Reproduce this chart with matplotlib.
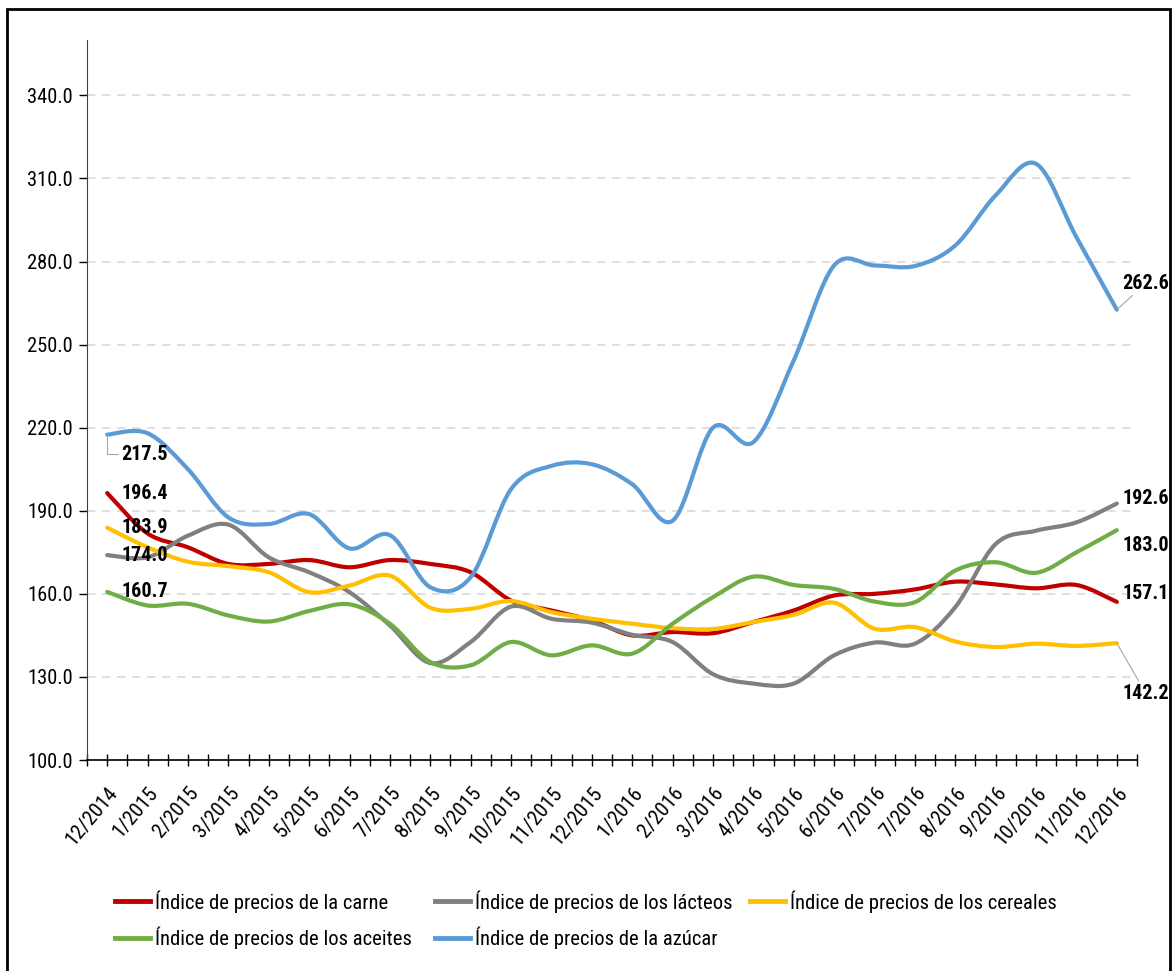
import matplotlib
matplotlib.use("Agg")
import matplotlib.pyplot as plt
import numpy as np
from matplotlib.path import Path
from matplotlib.patches import PathPatch, Rectangle
from matplotlib.lines import Line2D
from matplotlib import font_manager

names = {f.name for f in font_manager.fontManager.ttflist}
FONT = 'Liberation Sans'
for cand in ['Arial Narrow', 'Liberation Sans Narrow', 'Roboto Condensed', 'Archivo Narrow',
             'Pragati Narrow', 'PT Sans Narrow', 'Open Sans Condensed']:
    if cand in names:
        FONT = cand
        break
plt.rcParams['font.family'] = [FONT, 'DejaVu Sans']

categories = ["12/2014", "1/2015", "2/2015", "3/2015", "4/2015", "5/2015", "6/2015",
              "7/2015", "8/2015", "9/2015", "10/2015", "11/2015", "12/2015", "1/2016",
              "2/2016", "3/2016", "4/2016", "5/2016", "6/2016", "7/2016", "7/2016",
              "8/2016", "9/2016", "10/2016", "11/2016", "12/2016"]

carne = [196.4, 181.8, 176.8, 170.8, 170.8, 172.2, 169.6, 172.2, 170.8, 167.8, 157.6, 154.0, 150.4,
         145.0, 146.2, 145.8, 149.8, 154.0, 159.4, 160.0, 161.6, 164.4, 163.4, 162.0, 163.2, 157.1]
lacteos = [174.0, 173.2, 181.0, 185.0, 173.2, 167.8, 160.6, 148.6, 135.0, 142.6, 155.4, 151.0, 149.6,
           145.2, 142.6, 131.0, 127.6, 127.6, 137.8, 142.4, 142.0, 155.2, 178.0, 182.8, 185.8, 192.6]
cereales = [183.9, 176.8, 171.6, 170.0, 167.8, 160.6, 163.0, 166.6, 155.0, 154.6, 157.4, 153.4, 151.0,
            149.2, 147.6, 147.3, 149.8, 152.4, 156.8, 147.4, 148.0, 142.8, 140.8, 142.0, 141.2, 142.2]
aceites = [160.7, 155.8, 156.4, 152.2, 150.0, 153.8, 156.2, 149.2, 135.4, 134.2, 142.6, 137.8, 141.4,
           138.4, 149.2, 158.8, 166.2, 163.2, 161.8, 157.2, 157.0, 168.4, 171.4, 167.6, 175.0, 183.0]
azucar = [217.5, 218.0, 205.0, 187.6, 185.2, 188.8, 176.4, 181.2, 162.4, 166.0, 197.8, 206.2, 206.8,
          199.6, 186.4, 220.0, 214.8, 244.3, 278.6, 278.6, 278.4, 285.8, 303.9, 315.3, 288.8, 262.6]

series_names = ["Índice de precios de la carne", "Índice de precios de los lácteos",
                "Índice de precios de los cereales", "Índice de precios de los aceites",
                "Índice de precios de la azúcar"]
colors = ["#C00000", "#808080", "#FFC000", "#70AD47", "#5B9BD5"]
all_series = [carne, lacteos, cereales, aceites, azucar]

W, H = 1172, 971
fig = plt.figure(figsize=(W / 100, H / 100), dpi=100)
ax = fig.add_axes([87 / W, 1 - 760 / H, (1137 - 87) / W, (760 - 40) / H])

x = np.arange(len(categories))


def smooth_path(xs, ys):
    pts = np.column_stack([xs, ys]).astype(float)
    n = len(pts)
    verts = [pts[0]]
    codes = [Path.MOVETO]
    for i in range(n - 1):
        p0 = pts[i - 1] if i > 0 else pts[i]
        p1 = pts[i]
        p2 = pts[i + 1]
        p3 = pts[i + 2] if i + 2 < n else pts[i + 1]
        c1 = p1 + (p2 - p0) / 6.0
        c2 = p2 - (p3 - p1) / 6.0
        verts += [c1, c2, p2]
        codes += [Path.CURVE4] * 3
    return Path(verts, codes)


for ys, c in zip(all_series, colors):
    patch = PathPatch(smooth_path(x, ys), facecolor='none', edgecolor=c, lw=3.0,
                      capstyle='round', joinstyle='round', zorder=3)
    ax.add_patch(patch)

ax.set_xlim(-0.5, len(categories) - 0.5)
ax.set_ylim(100, 360)
ax.set_yticks(np.arange(100, 341, 30))
ax.set_yticklabels([f"{v:.1f}" for v in np.arange(100, 341, 30)])
ax.yaxis.grid(True, color='#d9d9d9', linestyle=(0, (5, 4)), linewidth=1.2)
ax.set_axisbelow(True)

ax.set_xticks(x)
ax.set_xticklabels(categories, rotation=50, ha='right', rotation_mode='anchor')
ax.set_xticks(np.arange(-0.5, len(categories), 1.0), minor=True)
ax.tick_params(axis='x', which='both', direction='inout', length=8, width=1, color='black')
ax.tick_params(axis='x', which='major', pad=13, labelsize=15)
ax.tick_params(axis='y', which='major', direction='out', length=6, width=1, color='black',
               labelsize=14.8, pad=4)

for s in ['top', 'right']:
    ax.spines[s].set_visible(False)
ax.spines['left'].set_color('#404040')
ax.spines['bottom'].set_color('black')
ax.spines['bottom'].set_linewidth(1.2)

# data labels
lab = dict(fontsize=14.5, fontweight='bold', va='center', ha='left', color='black',
           textcoords='offset points', zorder=5)
lead = dict(arrowstyle='-', color='#a6a6a6', lw=0.8, shrinkA=0, shrinkB=0)

ax.annotate(f"{azucar[0]:.1f}", xy=(0, azucar[0]), xytext=(10, -14),
            arrowprops=dict(connectionstyle='angle,angleA=0,angleB=90', **lead), **lab)
ax.annotate(f"{carne[0]:.1f}", xy=(0, carne[0]), xytext=(10, 0), **lab)
ax.annotate(f"{cereales[0]:.1f}", xy=(0, cereales[0]), xytext=(10, 0), **lab)
ax.annotate(f"{lacteos[0]:.1f}", xy=(0, lacteos[0]), xytext=(10, 0), **lab)
ax.annotate(f"{aceites[0]:.1f}", xy=(0, aceites[0]), xytext=(10, 0), **lab)

last = len(categories) - 1
ax.annotate(f"{azucar[-1]:.1f}", xy=(last, azucar[-1]), xytext=(4, 19),
            arrowprops=dict(**lead), **lab)
ax.annotate(f"{lacteos[-1]:.1f}", xy=(last, lacteos[-1]), xytext=(4, 4), **lab)
ax.annotate(f"{aceites[-1]:.1f}", xy=(last, aceites[-1]), xytext=(4, -11), **lab)
ax.annotate(f"{carne[-1]:.1f}", xy=(last, carne[-1]), xytext=(4, 6), **lab)
ax.annotate(f"{cereales[-1]:.1f}", xy=(last, cereales[-1]), xytext=(4, -36),
            arrowprops=dict(**lead), **lab)

# legends (three columns placed like the original)
handles = [Line2D([], [], color=c, lw=3.5) for c in colors]
columns = [([0, 3], 115), ([1, 4], 435), ([2], 750)]
for idx, px in columns:
    leg = fig.legend([handles[i] for i in idx], [series_names[i] for i in idx],
                     loc='upper left', bbox_to_anchor=(px / W, 1 - 890 / H),
                     frameon=False, fontsize=14.9, handlelength=1.7, handletextpad=0.25,
                     borderpad=0, borderaxespad=0, labelspacing=0.7)

# outer chart border (its bottom edge lies below the picture, as in the original)
fig.patches.append(Rectangle((7 / W, -10 / H), (1170 - 7) / W, (962 + 10) / H,
                             transform=fig.transFigure, fill=False, edgecolor='black',
                             lw=2.0, zorder=10, clip_on=False))

fig.savefig("out.png", dpi=100, facecolor='white')
